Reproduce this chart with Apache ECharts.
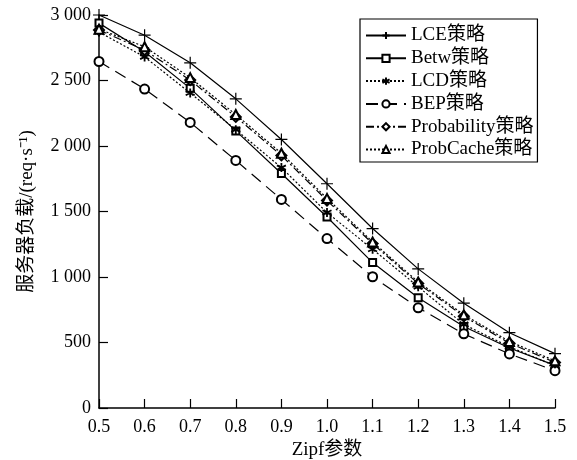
<!DOCTYPE html>
<html><head><meta charset="utf-8">
<script src="https://cdn.jsdelivr.net/npm/echarts@6/dist/echarts.min.js"></script>
<style>html,body{margin:0;padding:0;background:#fff}#c{width:577px;height:460px}</style>
</head><body><div id="c"></div>
<script>
const categories = ['0.5','0.6','0.7','0.8','0.9','1.0','1.1','1.2','1.3','1.4','1.5'];
const lce = [3000, 2846, 2635, 2360, 2050, 1712, 1370, 1062, 800, 575, 415];
const betw = [2938, 2720, 2440, 2115, 1790, 1458, 1110, 842, 622, 458, 325];
const lcd = [2870, 2680, 2405, 2125, 1835, 1492, 1212, 926, 638, 467, 322];
const bep = [2645, 2435, 2180, 1890, 1592, 1293, 1002, 765, 566, 413, 285];
const probability = [2885, 2732, 2503, 2222, 1928, 1584, 1255, 950, 700, 495, 348];
const probcache = [2892, 2758, 2522, 2240, 1945, 1600, 1268, 962, 712, 508, 360];
const yTicks = [0, 500, 1000, 1500, 2000, 2500, 3000];

const FONT = '"Liberation Serif", "Noto Sans CJK SC", serif';
const PLUS = 'path://M5,0L5,10M0,5L10,5';
const STAR = 'path://M5,0L5,10M0.7,2.5L9.3,7.5M0.7,7.5L9.3,2.5';

function mk(name, data, symbol, size, lineType, bw) {
  return {
    name, type: 'line', data, symbol, symbolSize: size,
    lineStyle: { color: '#000', width: 1.2, type: lineType },
    itemStyle: { color: '#000', borderColor: '#000', borderWidth: bw || 1.2 },
    emphasis: { disabled: true },
    animation: false
  };
}

const chart = echarts.init(document.getElementById('c'));
chart.setOption({
  backgroundColor: '#fff',
  textStyle: { fontFamily: FONT },
  grid: { left: 99, right: 22, top: 15, bottom: 52, containLabel: false, outerBoundsMode: 'none' },
  legend: {
    orient: 'vertical', left: 360, top: 19,
    borderColor: '#000', borderWidth: 1.2, padding: [7, 4, 3, 5],
    itemWidth: 40, itemHeight: 9, itemGap: 3.8,
    textStyle: { fontFamily: FONT, fontSize: 19, color: '#000' },
    data: ['LCE策略', 'Betw策略', 'LCD策略', 'BEP策略', 'Probability策略', 'ProbCache策略']
  },
  xAxis: {
    type: 'category', data: categories, boundaryGap: false,
    name: 'Zipf参数', nameLocation: 'middle', nameGap: 18,
    nameTextStyle: { fontFamily: FONT, fontSize: 19, color: '#000' },
    axisLine: { lineStyle: { color: '#000', width: 1.5 } },
    axisTick: { inside: true, length: 9, lineStyle: { color: '#000', width: 1.2 } },
    axisLabel: { fontFamily: FONT, fontSize: 18, color: '#000', margin: 10 },
    splitLine: { show: false }
  },
  yAxis: {
    type: 'value', min: yTicks[0], max: yTicks[yTicks.length - 1], interval: 500,
    name: '服务器负载/(req·s⁻¹)', nameLocation: 'middle', nameGap: 62,
    nameTextStyle: { fontFamily: FONT, fontSize: 19, color: '#000' },
    axisLine: { show: true, lineStyle: { color: '#000', width: 1.5 } },
    axisTick: { show: true, inside: true, length: 9, lineStyle: { color: '#000', width: 1.2 } },
    axisLabel: { fontFamily: FONT, fontSize: 18, color: '#000', margin: 8,
      formatter: v => String(v).replace(/\B(?=(\d{3})+(?!\d))/g, ' ') },
    splitLine: { show: false }
  },
  series: [
    mk('LCE策略', lce, PLUS, 12, 'solid'),
    mk('Betw策略', betw, 'emptyRect', 7, 'solid'),
    mk('LCD策略', lcd, STAR, 9, [2, 2], 1.8),
    mk('BEP策略', bep, 'emptyCircle', 9, [12, 7]),
    mk('Probability策略', probability, 'emptyDiamond', 10, [8, 3, 2, 3]),
    mk('ProbCache策略', probcache, 'emptyTriangle', 9, [2, 2])
  ]
});
</script></body></html>
